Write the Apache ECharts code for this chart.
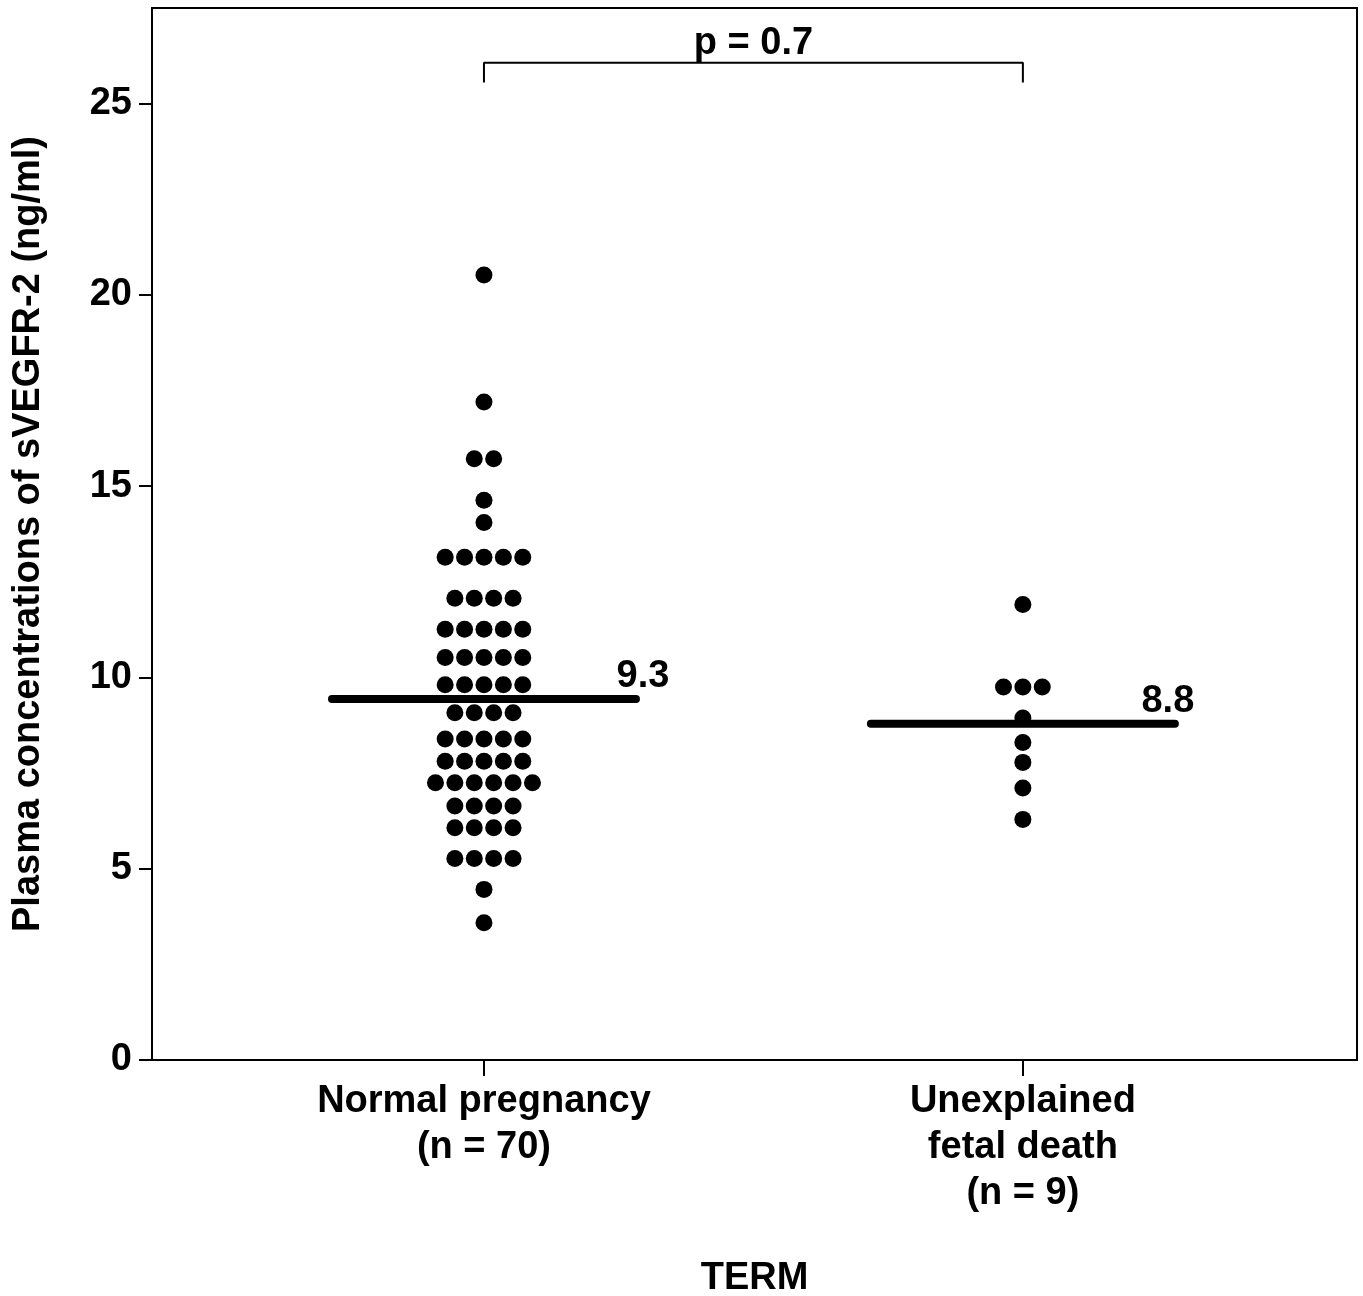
<!DOCTYPE html>
<html>
<head>
<meta charset="utf-8">
<script src="https://cdn.jsdelivr.net/npm/echarts@6/dist/echarts.min.js"></script>
<style>
html,body{margin:0;padding:0;background:#fff;}
#chart{width:1363px;height:1296px;}
</style>
</head>
<body>
<div id="chart"></div>
<script>
// ---- data ----
const categories = ['Normal pregnancy\n(n = 70)', 'Unexplained\nfetal death\n(n = 9)'];
const normalValues = [
  20.52,
  17.20,
  15.72, 15.72,
  14.63,
  14.05,
  13.14, 13.14, 13.14, 13.14, 13.14,
  12.07, 12.07, 12.07, 12.07,
  11.26, 11.26, 11.26, 11.26, 11.26,
  10.52, 10.52, 10.52, 10.52, 10.52,
  9.81, 9.81, 9.81, 9.81, 9.81,
  9.08, 9.08, 9.08, 9.08,
  8.39, 8.39, 8.39, 8.39, 8.39,
  7.81, 7.81, 7.81, 7.81, 7.81,
  7.25, 7.25, 7.25, 7.25, 7.25, 7.25,
  6.64, 6.64, 6.64, 6.64,
  6.07, 6.07, 6.07, 6.07,
  5.27, 5.27, 5.27, 5.27,
  4.46,
  3.59
];
const fetalDeathValues = [11.91, 9.75, 9.75, 9.75, 8.94, 8.30, 7.78, 7.11, 6.29];
const medianValues = [9.44, 8.79];
const medianLabels = ['9.3', '8.8'];
const pValueText = 'p = 0.7';
const yTicks = [0, 5, 10, 15, 20, 25];
const yAxisName = 'Plasma concentrations of sVEGFR-2 (ng/ml)';
const xAxisName = 'TERM';

// ---- build ----
const FONT = 'Liberation Sans, Arial, sans-serif';
const FS = 38;
const DOT_STEP = 19.4; // px between dots in a row
const HALF = 0.282;    // half length of median bar in category units

function swarm(values, xIndex) {
  const groups = {};
  values.forEach(v => { (groups[v] = groups[v] || []).push(v); });
  const out = [];
  Object.keys(groups).forEach(k => {
    const arr = groups[k];
    const n = arr.length;
    arr.forEach((v, i) => {
      out.push({ value: [xIndex, v], symbolOffset: [(i - (n - 1) / 2) * DOT_STEP, 0] });
    });
  });
  return out;
}

const chart = echarts.init(document.getElementById('chart'), null, { renderer: 'canvas' });

const labelOffsets = [[7, 0], [-7, 0]];
const medianSeries = medianValues.map((m, i) => ({
  type: 'line',
  data: [[i - HALF, m], [i + HALF, m]],
  symbol: 'none',
  lineStyle: { color: '#000', width: 8, cap: 'round' },
  z: 5,
  silent: true
}));
const medianLabelSeries = {
  type: 'scatter',
  symbolSize: 0,
  silent: true,
  z: 6,
  itemStyle: { opacity: 1 },
  data: medianValues.map((m, i) => ({
    value: [i + HALF, m],
    label: {
      show: true,
      formatter: medianLabels[i],
      position: 'top',
      distance: 3,
      offset: labelOffsets[i],
      color: '#000',
      fontFamily: FONT,
      fontWeight: 'bold',
      fontSize: FS
    }
  }))
};

const option = {
  backgroundColor: '#fff',
  animation: false,
  grid: {
    left: 152, right: 6, top: 8, bottom: 236,
    outerBoundsMode: 'none',
    containLabel: false,
    show: true, borderColor: '#000', borderWidth: 2, backgroundColor: 'transparent'
  },
  xAxis: {
    type: 'value',
    min: -0.616, max: 1.62,
    name: xAxisName,
    nameLocation: 'middle',
    nameGap: 200,
    nameTextStyle: { color: '#000', fontFamily: FONT, fontWeight: 'bold', fontSize: FS },
    splitLine: { show: false },
    axisLine: { show: true, onZero: false, lineStyle: { color: '#000', width: 2 } },
    axisTick: { show: true, customValues: [0, 1], length: 16, lineStyle: { color: '#000', width: 2 } },
    axisLabel: {
      show: true, customValues: [0, 1],
      formatter: v => categories[Math.round(v)],
      color: '#000', fontFamily: FONT, fontWeight: 'bold', fontSize: FS,
      lineHeight: 46, margin: 19
    }
  },
  yAxis: {
    type: 'value',
    min: 0, max: 27.5,
    name: yAxisName,
    nameLocation: 'middle',
    nameGap: 104,
    nameTextStyle: { color: '#000', fontFamily: FONT, fontWeight: 'bold', fontSize: FS },
    splitLine: { show: false },
    axisLine: { show: true, onZero: false, lineStyle: { color: '#000', width: 2 } },
    axisTick: { show: true, customValues: yTicks, length: 13, lineStyle: { color: '#000', width: 2 } },
    axisLabel: {
      customValues: yTicks,
      color: '#000', fontFamily: FONT, fontWeight: 'bold', fontSize: FS, margin: 20
    }
  },
  series: [
    {
      type: 'scatter',
      data: swarm(normalValues, 0),
      symbol: 'circle', symbolSize: 17,
      itemStyle: { color: '#000', opacity: 1 },
      z: 3
    },
    {
      type: 'scatter',
      data: swarm(fetalDeathValues, 1),
      symbol: 'circle', symbolSize: 17,
      itemStyle: { color: '#000', opacity: 1 },
      z: 3
    },
    ...medianSeries,
    medianLabelSeries,
    {
      type: 'line',
      data: [[0, 25.55], [0, 26.07], [1, 26.07], [1, 25.55]],
      symbol: 'none',
      lineStyle: { color: '#000', width: 2 },
      silent: true
    },
    {
      type: 'scatter',
      data: [[0.5, 26.07]],
      symbolSize: 0,
      silent: true,
      itemStyle: { opacity: 1 },
      label: {
        show: true, position: 'top', distance: 0,
        formatter: pValueText,
        color: '#000', fontFamily: FONT, fontWeight: 'bold', fontSize: FS
      }
    }
  ]
};
chart.setOption(option);
</script>
</body>
</html>
